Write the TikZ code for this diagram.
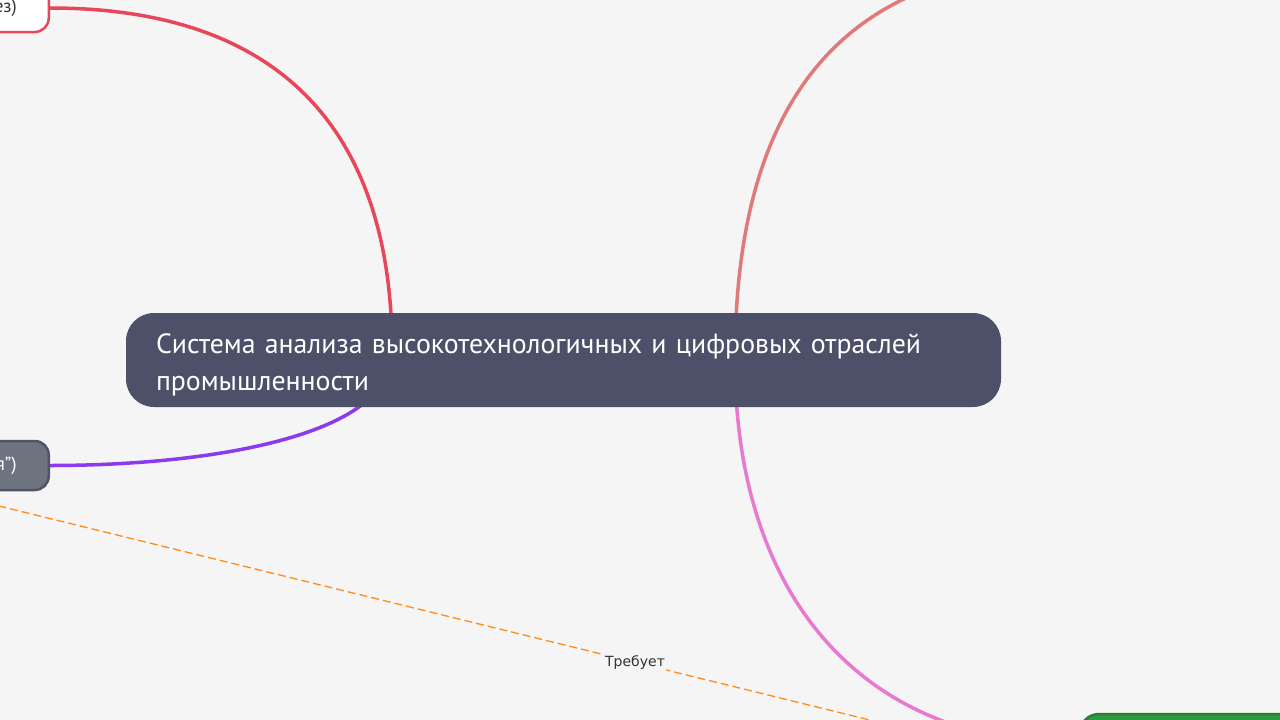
\documentclass[tikz,border=0pt]{standalone}
\usepackage{fontspec}
\setmainfont{PT Sans}
\newfontfamily\lblfont{DejaVu Sans}
\definecolor{bgc}{HTML}{F5F5F5}
\definecolor{mainc}{HTML}{4C5068}
\definecolor{redc}{HTML}{E8475A}
\definecolor{salmonc}{HTML}{E07A7A}
\definecolor{pinkc}{HTML}{E879D0}
\definecolor{purplec}{HTML}{8B3AEF}
\definecolor{grayfill}{HTML}{6E7380}
\definecolor{grayline}{HTML}{4F5563}
\definecolor{greenfill}{HTML}{2A9D44}
\definecolor{greenline}{HTML}{2E7D32}
\definecolor{dashc}{HTML}{FF8C1A}
\pgfdeclarelayer{bglayer}
\pgfdeclarelayer{edgelayer}
\pgfsetlayers{bglayer,edgelayer,main}
\begin{document}
\begin{tikzpicture}[x=1pt,y=-1pt,
 branch/.style={line width=3.5pt, line cap=round},
 rootbox/.style={rounded corners=28pt, fill=mainc, minimum width=875pt, minimum height=94pt, inner xsep=30pt, inner ysep=0pt, text width=815pt, align=left, text=white, font=\fontsize{27.8}{37}\selectfont},
 childbox/.style={rounded corners=14pt, line width=2.5pt, inner xsep=32pt, inner ysep=0pt, text width=150pt, align=right, font=\fontsize{18.5}{20}\selectfont, anchor=east},
 link/.style={dashc, line width=1.3pt, dash pattern=on 8pt off 4pt},
 linklabel/.style={fill=bgc, inner sep=1.5pt, text=black!80, font=\lblfont\fontsize{14}{16}\selectfont}]
\useasboundingbox (0,0) rectangle (1280,720);
\clip (0,0) rectangle (1280,720);
\begin{pgfonlayer}{bglayer}
\fill[bgc] (0,0) rectangle (1280,720);
\end{pgfonlayer}
% nodes
\node[rootbox] (root) at (563.5,360) {\rule{0pt}{30pt}Система анализа высокотехнологичных и цифровых отраслей\\промышленности};
\node[childbox, draw=redc, fill=white, text=black!80, minimum height=48pt] (tl) at (50,8) {ез)};
\node[childbox, draw=grayline, fill=grayfill, text=white, minimum height=49pt, font=\fontsize{19}{21}\selectfont] (gy) at (50,465.5) {я")};
\node[draw=greenline, fill=greenfill, line width=2.5pt, rounded corners=20pt, minimum width=300pt, minimum height=60pt, anchor=west] (gr) at (1078,744) {};
\coordinate (mL) at (392,360);
\coordinate (mL2) at (388,360);
\coordinate (mR) at (735,360);
\coordinate (trc) at (1075,-35);
\coordinate (dl) at (-60,491.5);
\coordinate (dr) at (1000,752);
% connectors
\begin{pgfonlayer}{edgelayer}
\draw[branch, redc] (mL) .. controls +(3,-210) and +(248,0) .. (tl.east);
\draw[branch, salmonc] (mR) .. controls +(0,-240) and +(-248,0) .. (trc);
\draw[branch, pinkc] (mR) .. controls +(0,234) and +(-218,0) .. (gr.west);
\draw[branch, purplec] (mL2) .. controls +(0,70) and +(178,0) .. (gy.east);
\draw[link] (dl) -- node[linklabel, pos=0.6557] (lbl) {Требует} (dr);
\end{pgfonlayer}
\end{tikzpicture}
\end{document}
